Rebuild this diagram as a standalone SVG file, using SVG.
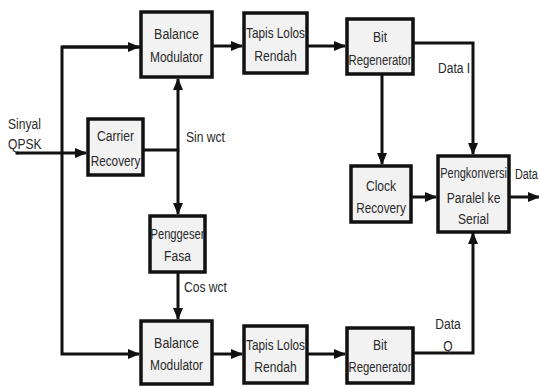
<svg xmlns="http://www.w3.org/2000/svg" width="539" height="387" viewBox="0 0 539 387">
<defs>
<style>
.box{fill:#f2f2f2;stroke:#111;stroke-width:3.5}
.t{font-family:"Liberation Sans",Arial,sans-serif;font-size:15.5px;fill:#2a2a2a;text-anchor:middle}
.l{font-family:"Liberation Sans",Arial,sans-serif;font-size:15.5px;fill:#2a2a2a}
.c{fill:none;stroke:#111;stroke-width:3;stroke-linejoin:miter}
</style>
<marker id="ah" markerUnits="userSpaceOnUse" markerWidth="12" markerHeight="10" refX="11" refY="5" orient="auto">
<path d="M0,0 L12,5 L0,10 Z" fill="#111"/>
</marker>
</defs>
<rect width="539" height="387" fill="#fff"/>

<g id="connectors">
<path class="c" d="M17,153 H86" marker-end="url(#ah)"/>
<circle cx="17" cy="153" r="1.8" fill="#111"/>
<path class="c" d="M140,47 H62 V354 H139" marker-end="url(#ah)"/>
<path class="c" d="M62,47 H139" marker-end="url(#ah)"/>
<path class="c" d="M144,150 H178 V79" marker-end="url(#ah)"/>
<path class="c" d="M178,150 V214" marker-end="url(#ah)"/>
<path class="c" d="M178,272 V319" marker-end="url(#ah)"/>
<path class="c" d="M213,46 H242" marker-end="url(#ah)"/>
<path class="c" d="M308,46 H345" marker-end="url(#ah)"/>
<path class="c" d="M213,354 H242" marker-end="url(#ah)"/>
<path class="c" d="M308,354 H345" marker-end="url(#ah)"/>
<path class="c" d="M414,43 H473 V154" marker-end="url(#ah)"/>
<path class="c" d="M382,74 V164" marker-end="url(#ah)"/>
<path class="c" d="M412,197 H436" marker-end="url(#ah)"/>
<path class="c" d="M414,353 H473 V233" marker-end="url(#ah)"/>
<path class="c" d="M510,197 H539" marker-end="url(#ah)"/>
</g>

<g id="labels">
<text class="l" transform="translate(8,129) scale(0.78,1)">Sinyal</text>
<text class="l" transform="translate(8,149) scale(0.78,1)">QPSK</text>
<text class="l" transform="translate(186,142) scale(0.78,1)">Sin wct</text>
<text class="l" transform="translate(184,292) scale(0.78,1)">Cos wct</text>
<text class="l" transform="translate(438,73) scale(0.78,1)">Data I</text>
<text class="t" transform="translate(448,329) scale(0.78,1)">Data</text>
<text class="t" transform="translate(448,351) scale(0.78,1)">Q</text>
<text class="l" transform="translate(515,179) scale(0.7,1)">Data</text>
</g>

<g id="bm-top">
<rect class="box" x="141" y="12" width="71" height="65"/>
<text class="t" transform="translate(176.5,39) scale(0.8,1)">Balance</text>
<text class="t" transform="translate(176.5,62) scale(0.77,1)">Modulator</text>
</g>
<g id="tapis-top">
<rect class="box" x="244" y="13" width="63" height="60"/>
<text class="t" transform="translate(275.5,38) scale(0.76,1)">Tapis Lolos</text>
<text class="t" transform="translate(275.5,61) scale(0.78,1)">Rendah</text>
</g>
<g id="bit-top">
<rect class="box" x="347" y="19" width="66" height="55"/>
<text class="t" transform="translate(380,42) scale(0.78,1)">Bit</text>
<text class="t" transform="translate(380,65) scale(0.73,1)">Regenerator</text>
</g>
<g id="carrier">
<rect class="box" x="88" y="119" width="55" height="56"/>
<text class="t" transform="translate(115.5,141) scale(0.78,1)">Carrier</text>
<text class="t" transform="translate(115.5,166) scale(0.76,1)">Recovery</text>
</g>
<g id="penggeser">
<rect class="box" x="150" y="216" width="55" height="56"/>
<text class="t" transform="translate(177.5,239) scale(0.72,1)">Penggeser</text>
<text class="t" transform="translate(177.5,261) scale(0.78,1)">Fasa</text>
</g>
<g id="clock">
<rect class="box" x="351" y="166" width="60" height="56"/>
<text class="t" transform="translate(381,191) scale(0.78,1)">Clock</text>
<text class="t" transform="translate(381,213) scale(0.76,1)">Recovery</text>
</g>
<g id="pengkonversi">
<rect class="box" x="438" y="156" width="71" height="76"/>
<text class="t" transform="translate(473.5,178) scale(0.71,1)">Pengkonversi</text>
<text class="t" transform="translate(473.5,203) scale(0.78,1)">Paralel ke</text>
<text class="t" transform="translate(473.5,224) scale(0.78,1)">Serial</text>
</g>
<g id="bm-bottom">
<rect class="box" x="141" y="321" width="71" height="63"/>
<text class="t" transform="translate(176.5,348) scale(0.8,1)">Balance</text>
<text class="t" transform="translate(176.5,370) scale(0.77,1)">Modulator</text>
</g>
<g id="tapis-bottom">
<rect class="box" x="244" y="326" width="63" height="57"/>
<text class="t" transform="translate(275.5,350) scale(0.76,1)">Tapis Lolos</text>
<text class="t" transform="translate(275.5,372) scale(0.78,1)">Rendah</text>
</g>
<g id="bit-bottom">
<rect class="box" x="347" y="328" width="66" height="55"/>
<text class="t" transform="translate(380,350) scale(0.78,1)">Bit</text>
<text class="t" transform="translate(380,372) scale(0.73,1)">Regenerator</text>
</g>
</svg>
